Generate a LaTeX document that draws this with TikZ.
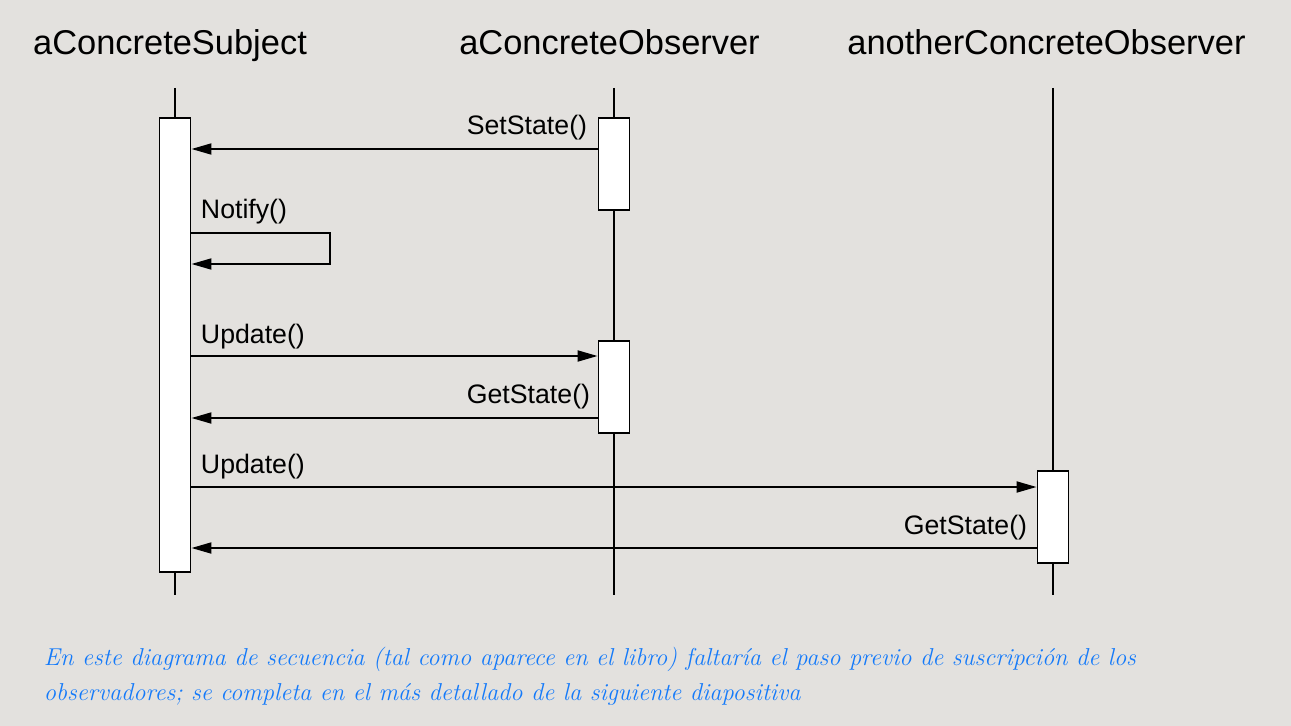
\documentclass[tikz,border=0pt]{standalone}
\usepackage{fontspec}
\setsansfont{Liberation Sans}
\usepackage{tikz}
\usetikzlibrary{positioning,arrows.meta,calc}
\definecolor{slidebg}{RGB}{227,225,222}
\definecolor{noteblue}{RGB}{20,122,250}

\begin{document}
\begin{tikzpicture}
	[x=0.02cm,y=-0.02cm,line width=1.1pt,
	head/.style={font=\sffamily\fontsize{19.6}{20}\selectfont,inner sep=0pt,anchor=base},
	lbl/.style={font=\sffamily\fontsize{15.2}{16}\selectfont,inner sep=0pt},
	act/.style={rectangle,draw=black,fill=white,minimum width=0.62cm,inner sep=0pt},
	msg/.style={-{Triangle[length=0.4cm,width=0.22cm]}},
	note/.style={font=\itshape\fontsize{13.9}{14}\selectfont,text=noteblue,inner sep=0pt,anchor=base west}]
	\fill[slidebg] (0,0) rectangle (1291,726);
	\useasboundingbox (0,0) rectangle (1291,726);
	%HEADS
	\node[head] (hS) at (170,55) {aConcreteSubject};
	\node[head] (hA) at (609.5,55) {aConcreteObserver};
	\node[head] (hB) at (1046.5,55) {anotherConcreteObserver};
	%LIFELINES
	\foreach \n/\x in {S/175,A/614,B/1053}
	{
		\coordinate (\n top) at (\x,88);
		\coordinate (\n bot) at (\x,595);
		\draw (\n top) -- (\n bot);
	};
	%ACTIVATIONS
	\node[act,minimum height=9.08cm] (actS) at (175,345) {};
	\node[act,minimum height=1.84cm] (actA1) at (614,164) {};
	\node[act,minimum height=1.84cm] (actA2) at (614,387) {};
	\node[act,minimum height=1.84cm] (actB) at (1053,517) {};
	%MESSAGES
	\foreach \m/\y in {m1/149,m2/233,m3/264,m4/356,m5/418,m6/487,m7/548}
	\coordinate (\m) at (0,\y);
	\coordinate (loop) at (330,0);
	\draw[msg] (actA1.west |- m1) -- (actS.east |- m1);
	\draw[msg] (actS.east |- m2) -| (loop |- m3) -- (actS.east |- m3);
	\draw[msg] (actS.east |- m4) -- (actA2.west |- m4);
	\draw[msg] (actA2.west |- m5) -- (actS.east |- m5);
	\draw[msg] (actS.east |- m6) -- (actB.west |- m6);
	\draw[msg] (actB.west |- m7) -- (actS.east |- m7);
	%LABELS
	\node[lbl,anchor=base east] (lSet) at (588,135) {SetState()};
	\node[lbl,anchor=base west] (lNotify) at (200,218) {Notify()};
	\node[lbl,anchor=base west] (lUpd1) at (200,343) {Update()};
	\node[lbl,anchor=base east] (lGet1) at (591,403) {GetState()};
	\node[lbl,anchor=base west] (lUpd2) at (200,473) {Update()};
	\node[lbl,anchor=base east] (lGet2) at (1028,534) {GetState()};
	%NOTE
	\node[note] (note1) at (43,665) {En este diagrama de secuencia (tal como aparece en el libro) faltaría el paso previo de suscripción de los};
	\node[note] (note2) at (43,700) {observadores; se completa en el más detallado de la siguiente diapositiva};
\end{tikzpicture}
\end{document}
